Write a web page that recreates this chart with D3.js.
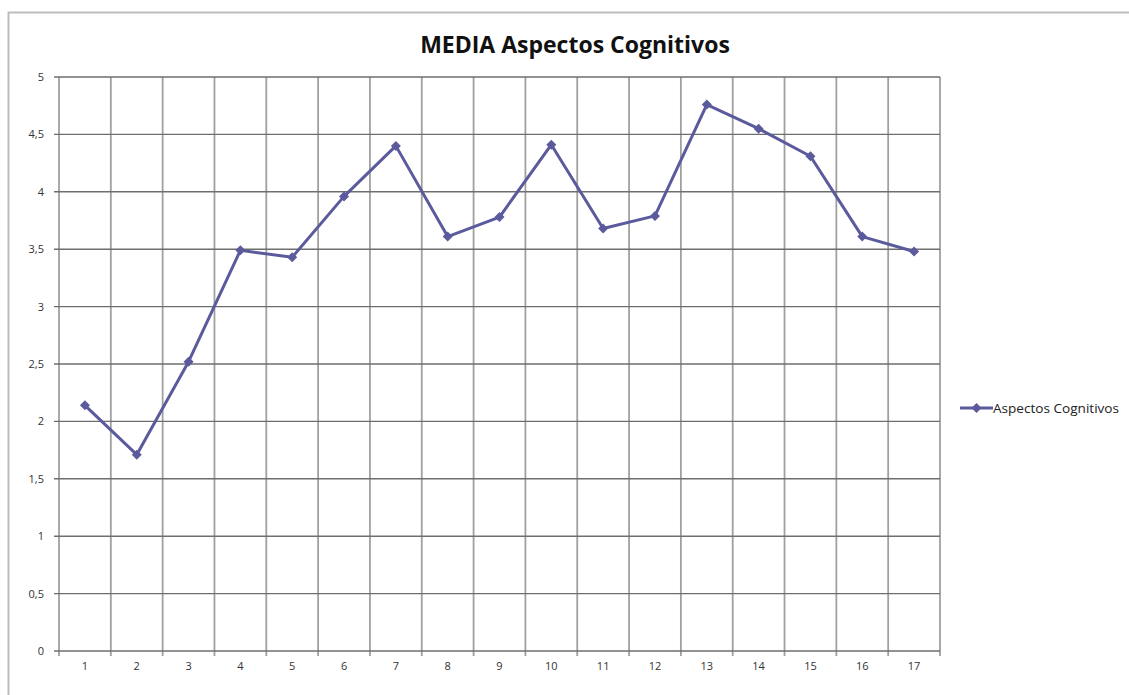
<!DOCTYPE html>
<html>
<head>
<meta charset="utf-8">
<script src="https://cdn.jsdelivr.net/npm/d3@7/dist/d3.min.js"></script>
<style>
  html, body { margin: 0; padding: 0; background: #fff; }
  svg { display: block; }
</style>
</head>
<body>
<svg id="chart" width="1129" height="695"></svg>
<script>
// Mean score per item, "Aspectos Cognitivos"
const categories = ["1","2","3","4","5","6","7","8","9","10","11","12","13","14","15","16","17"];
const seriesName = "Aspectos Cognitivos";
const values = [2.14, 1.71, 2.52, 3.49, 3.43, 3.96, 4.40, 3.61, 3.78, 4.41, 3.68, 3.79, 4.76, 4.55, 4.31, 3.61, 3.48];
const yTicks = [0, 0.5, 1, 1.5, 2, 2.5, 3, 3.5, 4, 4.5, 5];
const title = "MEDIA Aspectos Cognitivos";

const svg = d3.select("#chart");
const W = 1129, H = 695;
const plot = { left: 59, right: 940, top: 77, bottom: 651 };
const lineColor = "#5a5a9c";
const font = "'Open Sans', 'Liberation Sans', sans-serif";

// outer chart frame
svg.append("rect")
  .attr("x", 8.5).attr("y", 12.5)
  .attr("width", W + 10).attr("height", H + 10)
  .attr("fill", "#fff").attr("stroke", "#bdbdbd").attr("stroke-width", 2);

const x = d3.scaleBand().domain(categories).range([plot.left, plot.right]).paddingInner(0).paddingOuter(0);
const y = d3.scaleLinear().domain([0, 5]).range([plot.bottom, plot.top]);

// vertical gridlines at category boundaries
const bounds = categories.map(c => x(c)).concat([plot.right]);
svg.append("g").selectAll("line").data(bounds).join("line")
  .attr("x1", d => d).attr("x2", d => d)
  .attr("y1", plot.top).attr("y2", plot.bottom + 5)
  .attr("stroke", "#a0a0a0").attr("stroke-width", 1.8);

// horizontal gridlines
svg.append("g").selectAll("line").data(yTicks).join("line")
  .attr("x1", plot.left - 5).attr("x2", plot.right)
  .attr("y1", d => y(d)).attr("y2", d => y(d))
  .attr("stroke", "#6e6e6e").attr("stroke-width", 1.4);

// y axis labels
const yAxis = d3.axisLeft(y).tickValues(yTicks).tickSize(0).tickPadding(0)
  .tickFormat(d => String(d).replace(".", ","));
const gy = svg.append("g").attr("transform", `translate(${plot.left - 15},0)`).call(yAxis);
gy.select(".domain").remove();
gy.selectAll("text").attr("font-family", font).attr("font-size", 11).attr("fill", "#333");

// x axis labels
const xAxis = d3.axisBottom(x).tickSize(0).tickPadding(0);
const gx = svg.append("g").attr("transform", `translate(0,${plot.bottom + 11})`).call(xAxis);
gx.select(".domain").remove();
gx.selectAll("text").attr("font-family", font).attr("font-size", 11).attr("fill", "#333");

// series line
const line = d3.line()
  .x((d, i) => x(categories[i]) + x.bandwidth() / 2)
  .y(d => y(d));
svg.append("path").datum(values)
  .attr("d", line)
  .attr("fill", "none").attr("stroke", lineColor).attr("stroke-width", 3)
  .attr("stroke-linejoin", "round");

// diamond markers (rotated squares)
const diamond = d3.symbol().type(d3.symbolSquare).size(50);
svg.append("g").selectAll("path").data(values).join("path")
  .attr("d", diamond)
  .attr("transform", (d, i) => `translate(${x(categories[i]) + x.bandwidth() / 2},${y(d)}) rotate(45)`)
  .attr("fill", lineColor);

// title
svg.append("text")
  .attr("x", 575).attr("y", 53)
  .attr("text-anchor", "middle")
  .attr("font-family", font).attr("font-weight", "bold").attr("font-size", 23)
  .attr("fill", "#111")
  .text(title);

// legend
const lg = svg.append("g").attr("transform", "translate(960,408)");
lg.append("line").attr("x1", 0).attr("x2", 33).attr("y1", 0).attr("y2", 0)
  .attr("stroke", lineColor).attr("stroke-width", 3);
lg.append("path").attr("d", diamond).attr("transform", "translate(16.5,0) rotate(45)").attr("fill", lineColor);
lg.append("text").attr("x", 33).attr("y", 4.5)
  .attr("font-family", font).attr("font-size", 12.5).attr("fill", "#222")
  .attr("textLength", 126).attr("lengthAdjust", "spacingAndGlyphs")
  .text(seriesName);
</script>
</body>
</html>
